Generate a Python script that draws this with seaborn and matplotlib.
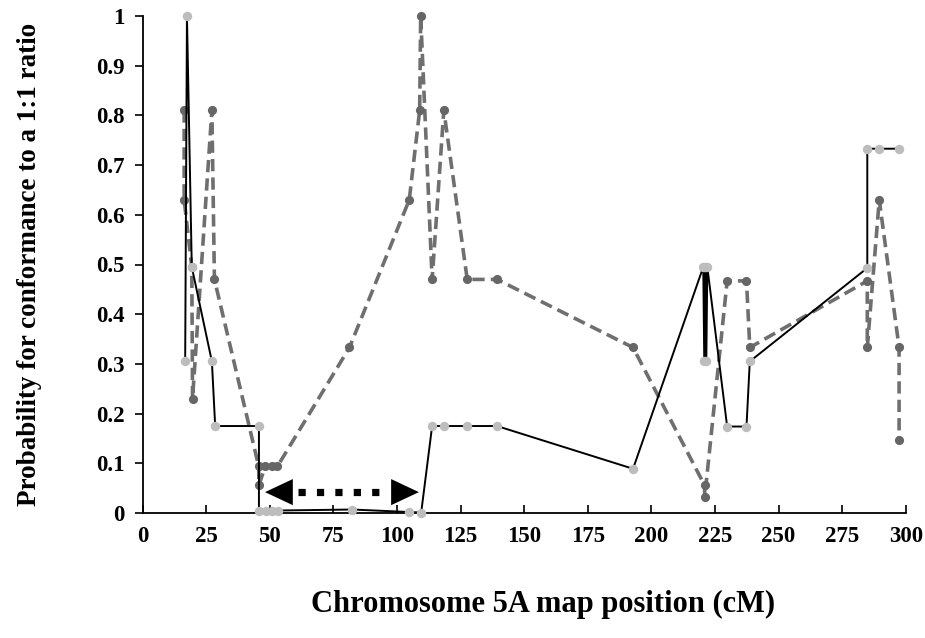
import matplotlib
matplotlib.use("Agg")
import matplotlib.pyplot as plt
import seaborn as sns
import pandas as pd

# Series A: solid black line, light-grey markers
pos_a = [16.7, 17.4, 19.3, 27.2, 28.5, 45.7, 45.7, 48.4, 50.7, 53.1, 82.4, 104.6,
         109.5, 113.8, 118.4, 127.6, 139.3, 192.8, 220.4, 220.8, 221.2, 221.6,
         222.0, 229.8, 237.4, 238.7, 284.9, 284.9, 289.6, 297.4]
prob_a = [0.305, 1.0, 0.495, 0.305, 0.175, 0.175, 0.005, 0.005, 0.005, 0.005, 0.007,
          0.002, 0.001, 0.175, 0.175, 0.175, 0.175, 0.089, 0.495, 0.305, 0.495,
          0.305, 0.495, 0.174, 0.174, 0.305, 0.493, 0.733, 0.733, 0.733]

# Series B: dashed dark-grey line, dark-grey markers
pos_b = [16.3, 16.3, 19.3, 19.6, 27.2, 28.2, 45.6, 45.7, 48.2, 50.7, 53.0, 81.3,
         104.8, 108.9, 109.3, 113.8, 118.4, 127.6, 139.3, 192.8, 220.9, 221.0,
         229.8, 237.4, 238.7, 284.9, 284.9, 289.6, 297.4, 297.4]
prob_b = [0.81, 0.63, 0.495, 0.23, 0.81, 0.47, 0.094, 0.056, 0.094, 0.094, 0.094,
          0.333, 0.63, 0.81, 1.0, 0.47, 0.81, 0.47, 0.47, 0.333, 0.056, 0.033,
          0.467, 0.467, 0.333, 0.467, 0.333, 0.63, 0.333, 0.147]

# Distorted region (double arrow)
arrow_start, arrow_end, arrow_y = 48.1, 108.6, 0.042

x_ticks = [0, 25, 50, 75, 100, 125, 150, 175, 200, 225, 250, 275, 300]
y_ticks = [0, 0.1, 0.2, 0.3, 0.4, 0.5, 0.6, 0.7, 0.8, 0.9, 1]
y_tick_labels = ["0", "0.1", "0.2", "0.3", "0.4", "0.5", "0.6", "0.7", "0.8", "0.9", "1"]

x_label = "Chromosome 5A map position (cM)"
y_label = "Probability for conformance to a 1:1 ratio"

df_a = pd.DataFrame({"pos": pos_a, "prob": prob_a})
df_b = pd.DataFrame({"pos": pos_b, "prob": prob_b})

sns.set_theme(style="ticks")
plt.rcParams["font.family"] = ["Liberation Serif", "DejaVu Serif"]
plt.rcParams["font.weight"] = "bold"

fig = plt.figure(figsize=(9.25, 6.38), dpi=100)
ax = fig.add_axes([142.7 / 925, 125 / 638, (905.7 - 142.7) / 925, 497 / 638])

sns.lineplot(data=df_b, x="pos", y="prob", ax=ax, sort=False, estimator=None,
             color="#6f6f6f", linewidth=2.6, linestyle=(0, (3.4, 1.7)),
             marker="o", markersize=6.6, markerfacecolor="#666666",
             markeredgecolor="#666666", markeredgewidth=0, clip_on=False, zorder=3)
sns.lineplot(data=df_a, x="pos", y="prob", ax=ax, sort=False, estimator=None,
             color="black", linewidth=1.4,
             marker="o", markersize=6.8, markerfacecolor="#bdbdbd",
             markeredgecolor="#bdbdbd", markeredgewidth=0, clip_on=False, zorder=4)

# double-headed dotted arrow
ax.plot([arrow_start + 13, arrow_end - 12.5], [arrow_y, arrow_y], color="black",
        linewidth=5.2, linestyle=(0, (1.0, 1.55)), solid_capstyle="butt",
        dash_capstyle="butt", zorder=5)
for tip, base in [(arrow_start, arrow_start + 11), (arrow_end, arrow_end - 11)]:
    ax.annotate("", xy=(tip, arrow_y), xytext=(base, arrow_y),
                arrowprops=dict(arrowstyle="-|>,head_length=1.0,head_width=0.47",
                                mutation_scale=20, color="black", lw=0,
                                shrinkA=0, shrinkB=0), zorder=5)

ax.set_xlim(0, 300)
ax.set_ylim(0, 1)
ax.set_xticks(x_ticks)
ax.set_xticklabels([str(t) for t in x_ticks])
ax.set_yticks(y_ticks)
ax.set_yticklabels(y_tick_labels)

for s in ["top", "right"]:
    ax.spines[s].set_visible(False)
for s in ["left", "bottom"]:
    ax.spines[s].set_color("black")
    ax.spines[s].set_linewidth(1.3)

ax.tick_params(axis="x", direction="in", length=6, width=1.2, colors="black",
               labelsize=16.5, pad=9)
ax.tick_params(axis="y", direction="out", length=6, width=1.2, colors="black",
               labelsize=16.5, pad=7)
for lab in ax.get_xticklabels() + ax.get_yticklabels():
    lab.set_fontweight("bold")

ax.set_xlabel(x_label, fontsize=22, fontweight="bold", color="black")
ax.set_ylabel(y_label, fontsize=19.5, fontweight="bold", color="black")
ax.xaxis.set_label_coords(0.525, -0.185)
ax.yaxis.set_label_coords(-0.148, 0.5)
ax.xaxis.label.set_va("center")
ax.yaxis.label.set_va("center")

fig.savefig("out.png", dpi=100, facecolor="white")
